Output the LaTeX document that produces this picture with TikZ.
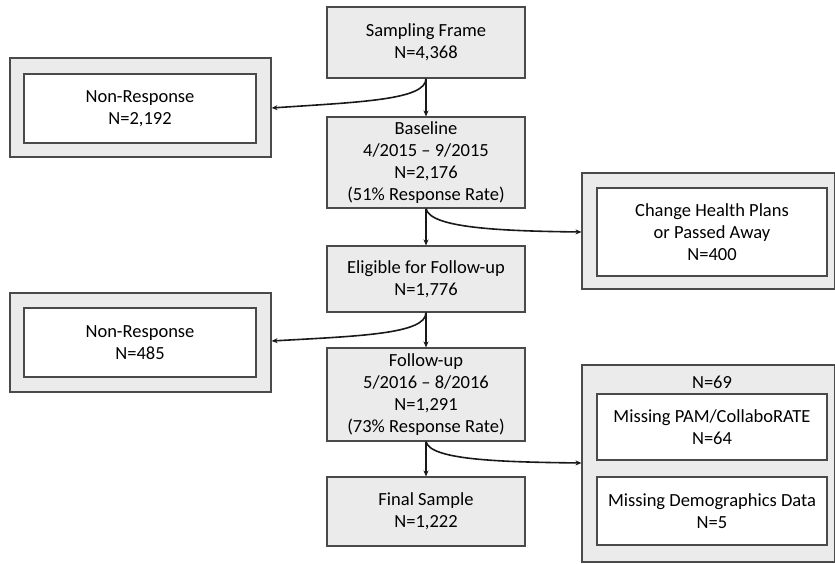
\documentclass[tikz,border=0pt]{standalone}
\usepackage{fontspec}
\setmainfont{Carlito}
\usetikzlibrary{arrows.meta}
\definecolor{boxgray}{HTML}{EBEBEB}
\definecolor{edgegray}{HTML}{4A4A4A}
\tikzset{
  mainbox/.style={draw=edgegray, line width=1.1pt, fill=boxgray, align=center, inner sep=0pt,
    minimum width=198pt, font=\fontsize{18.5}{22}\selectfont},
  outerbox/.style={draw=edgegray, line width=1.1pt, fill=boxgray, inner sep=0pt},
  innerbox/.style={draw=edgegray, line width=1.1pt, fill=white, align=center, inner sep=0pt,
    font=\fontsize{18.5}{22}\selectfont},
  lbl/.style={inner sep=0pt, font=\fontsize{18.5}{22}\selectfont},
  arr/.style={line width=1.6pt, draw=black!90, -{Stealth[length=6pt,width=5pt]}},
}
\begin{document}
\begin{tikzpicture}[x=1pt,y=-1pt]
\useasboundingbox (0,0) rectangle (835,564);
% main column
\node[mainbox, minimum height=71pt] (sf) at (426,42.5) {Sampling Frame\\N=4,368};
\node[mainbox, minimum height=91pt] (bl) at (426,162.5) {Baseline\\4/2015 -- 9/2015\\N=2,176\\(51\% Response Rate)};
\node[mainbox, minimum height=66pt] (el) at (426,279) {Eligible for Follow-up\\N=1,776};
\node[mainbox, minimum height=93pt] (fu) at (426,394.5) {Follow-up\\5/2016 -- 8/2016\\N=1,291\\(73\% Response Rate)};
\node[mainbox, minimum height=69pt] (fs) at (426,511.5) {Final Sample\\N=1,222};
% left boxes
\node[outerbox, minimum width=261pt, minimum height=99pt] (nr1o) at (140.5,107.5) {};
\node[innerbox, minimum width=232pt, minimum height=69pt] (nr1) at (140,108.5) {Non-Response\\N=2,192};
\node[outerbox, minimum width=261pt, minimum height=99pt] (nr2o) at (140.5,342.5) {};
\node[innerbox, minimum width=232pt, minimum height=69pt] (nr2) at (140,342.5) {Non-Response\\N=485};
% right boxes
\node[outerbox, minimum width=253pt, minimum height=116pt] (cho) at (708.5,231) {};
\node[innerbox, minimum width=230pt, minimum height=88pt] (ch) at (712,232) {Change Health Plans\\or Passed Away\\N=400};
\node[outerbox, minimum width=253pt, minimum height=197pt] (mio) at (708.5,463.5) {};
\node[lbl] (n69) at (712,382) {N=69};
\node[innerbox, minimum width=230pt, minimum height=66pt] (mp) at (712,427) {Missing PAM/CollaboRATE\\N=64};
\node[innerbox, minimum width=230pt, minimum height=68pt] (md) at (712,511) {Missing Demographics Data\\N=5};
% connectors
\draw[arr] (sf.south) -- (bl.north);
\draw[arr] (sf.south) .. controls (426,100) and (360,102) .. (nr1o.east |- 0,108);
\draw[arr] (bl.south) -- (el.north);
\draw[arr] (bl.south) .. controls (430,228) and (500,231) .. (cho.west |- 0,232);
\draw[arr] (el.south) -- (fu.north);
\draw[arr] (el.south) .. controls (426,334) and (360,336) .. (nr2o.east |- 0,341);
\draw[arr] (fu.south) -- (fs.north);
\draw[arr] (fu.south) .. controls (430,460) and (500,462) .. (mio.west |- 0,463);
\end{tikzpicture}
\end{document}
